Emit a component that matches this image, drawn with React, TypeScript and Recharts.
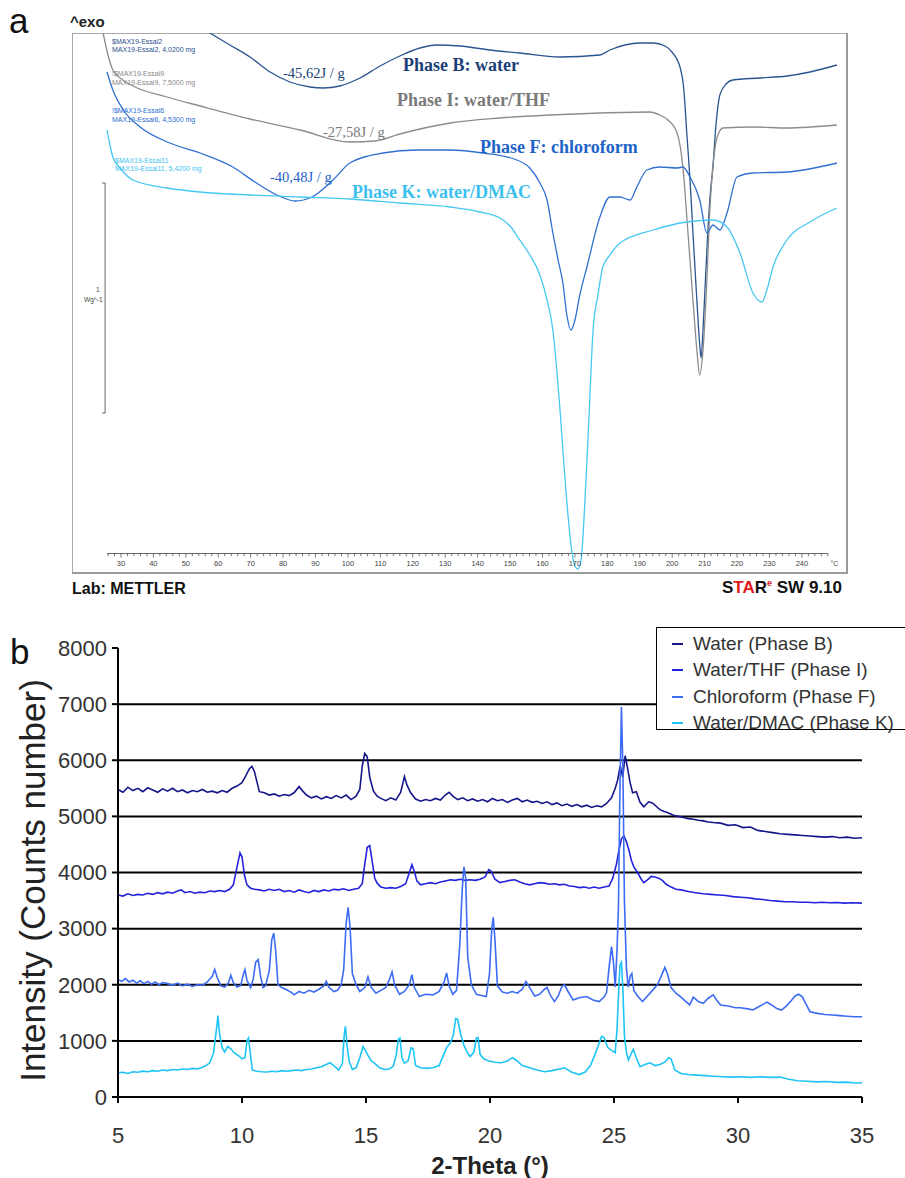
import React from "react";
import { LineChart, Line, XAxis, YAxis, ReferenceLine, Legend } from "recharts";

// ---------- panel a : DSC traces, [temperature °C, heat flow (a.u., 23 = 1 W/g)] ----------
const dscWaterB = [
  [57.4, 53.9], [63.6, 52.7], [69.8, 51.5], [76.0, 50.0], [82.1, 49.0], [88.3, 48.5], [92.3, 48.4],
  [97.5, 48.6], [103.7, 49.4], [109.9, 50.6], [116.0, 51.6], [122.2, 52.4], [127.4, 52.7], [134.5, 52.6],
  [143.8, 52.2], [153.0, 51.9], [165.4, 51.5], [177.7, 51.7], [180.8, 52.2], [185.4, 52.7], [190.0, 52.9],
  [194.1, 52.9], [197.8, 52.6], [199.9, 52.0], [202.4, 50.5], [203.6, 48.2], [204.5, 43.9], [205.5, 39.2],
  [206.4, 33.9], [207.6, 27.2], [208.5, 22.7], [208.9, 21.4], [209.5, 24.2], [210.1, 28.2], [210.7, 32.2],
  [211.6, 37.2], [212.6, 40.7], [213.5, 44.7], [214.7, 47.7], [216.6, 48.8], [218.7, 49.2], [227.1, 49.4],
  [235.4, 49.6], [242.5, 50.0], [250.8, 50.7],
];
const dscWaterThfI = [
  [24.5, 53.9], [26.0, 51.7], [27.5, 50.2], [30.6, 49.2], [33.7, 48.6], [44.2, 47.5], [54.4, 46.6],
  [69.8, 45.3], [85.2, 44.2], [100.6, 43.0], [108.3, 43.1], [116.0, 43.8], [131.5, 44.9], [146.9, 45.4],
  [162.3, 45.7], [177.7, 45.9], [193.1, 46.0], [196.2, 45.7], [198.7, 45.2], [201.5, 43.9], [203.3, 40.5],
  [204.8, 34.2], [206.4, 27.2], [207.6, 22.2], [208.5, 19.7], [209.5, 22.2], [210.7, 29.2], [211.6, 36.2],
  [212.6, 40.7], [213.8, 43.4], [215.6, 44.4], [224.9, 44.5], [235.4, 44.4], [250.8, 44.7],
];
const dscChloroformF = [
  [25.7, 50.0], [27.5, 48.2], [31.2, 46.0], [35.9, 44.5], [45.1, 42.9], [54.4, 41.9], [64.5, 40.5],
  [71.3, 39.0], [78.1, 37.7], [83.7, 37.1], [88.9, 37.5], [95.4, 39.2], [100.6, 40.9], [110.8, 41.9],
  [121.3, 42.2], [131.5, 42.2], [141.6, 41.9], [152.1, 41.2], [156.1, 40.4], [159.2, 38.9], [161.4, 37.2],
  [163.2, 33.9], [164.8, 31.2], [166.3, 28.9], [167.5, 25.7], [168.8, 24.2], [170.0, 25.2], [171.5, 27.7],
  [173.7, 30.5], [177.7, 35.5], [180.8, 37.5], [183.9, 37.5], [187.0, 37.2], [189.1, 38.5], [192.2, 40.2],
  [196.2, 40.5], [201.5, 40.4], [203.3, 40.5], [205.5, 39.5], [208.5, 37.2], [210.7, 33.9], [212.6, 34.7],
  [214.7, 34.2], [216.9, 35.9], [220.0, 39.5], [224.9, 39.9], [235.4, 40.0], [250.8, 40.9],
];
const dscWaterDmacK = [
  [25.7, 44.2], [26.6, 42.7], [27.5, 41.5], [29.7, 40.4], [33.7, 39.2], [44.2, 38.4], [54.4, 38.0],
  [69.8, 37.7], [85.2, 37.5], [100.6, 37.3], [116.0, 36.9], [131.5, 36.5], [140.7, 36.0], [146.9, 35.4],
  [150.0, 34.6], [153.0, 33.2], [156.1, 31.7], [159.2, 29.7], [161.4, 27.2], [163.2, 24.2], [165.4, 16.2],
  [167.2, 8.2], [168.8, 2.7], [170.0, 0.6], [170.9, 0.3], [171.9, 1.2], [173.1, 7.2], [174.3, 15.2],
  [175.6, 24.2], [177.1, 27.7], [178.6, 30.5], [180.8, 31.7], [183.9, 32.9], [194.1, 34.2], [204.5, 35.0],
  [212.6, 35.2], [216.9, 34.5], [220.9, 31.9], [224.9, 27.9], [227.7, 27.0], [229.2, 28.2], [231.1, 30.5],
  [235.4, 33.2], [242.5, 35.0], [250.8, 36.4],
];

const dscDomainT = [14.9, 253.6];
const dscDomainV = [0, 53.9];
const dscMajorTicks = [30, 40, 50, 60, 70, 80, 90, 100, 110, 120, 130, 140, 150, 160, 170, 180, 190, 200, 210, 220, 230, 240];
const dscTicks: number[] = [];
for (let t = 26; t <= 248; t += 2) dscTicks.push(t);
dscTicks.push(250); // unit label slot

// ---------- panel b : XRD patterns, [2-theta °, counts] ----------
const xrdWaterB = [
  [5.0, 5480], [5.2, 5430], [5.4, 5520], [5.6, 5460], [5.8, 5500], [6.0, 5440], [6.2, 5510], [6.4, 5470],
  [6.6, 5430], [6.8, 5490], [7.0, 5450], [7.2, 5500], [7.4, 5440], [7.6, 5470], [7.8, 5420], [8.0, 5460],
  [8.2, 5440], [8.4, 5480], [8.6, 5430], [8.8, 5450], [9.0, 5420], [9.2, 5460], [9.4, 5430], [9.6, 5500],
  [9.8, 5540], [10.0, 5600], [10.15, 5720], [10.3, 5850], [10.4, 5890], [10.5, 5800], [10.6, 5620], [10.7, 5440],
  [10.9, 5420], [11.1, 5380], [11.3, 5400], [11.5, 5360], [11.7, 5390], [11.9, 5370], [12.1, 5420], [12.3, 5530],
  [12.45, 5450], [12.6, 5380], [12.8, 5330], [13.0, 5360], [13.2, 5310], [13.4, 5350], [13.6, 5320], [13.8, 5370],
  [14.0, 5330], [14.2, 5380], [14.4, 5300], [14.6, 5360], [14.75, 5480], [14.85, 5900], [14.95, 6120], [15.05, 6060],
  [15.15, 5700], [15.3, 5450], [15.45, 5360], [15.6, 5320], [15.8, 5280], [16.0, 5330], [16.2, 5290], [16.4, 5430],
  [16.55, 5710], [16.65, 5560], [16.8, 5420], [17.0, 5310], [17.2, 5270], [17.4, 5300], [17.6, 5280], [17.8, 5320],
  [18.0, 5290], [18.2, 5380], [18.35, 5430], [18.5, 5360], [18.7, 5300], [18.9, 5330], [19.1, 5280], [19.3, 5310],
  [19.5, 5270], [19.7, 5300], [19.9, 5260], [20.1, 5320], [20.3, 5280], [20.5, 5300], [20.7, 5250], [20.9, 5290],
  [21.1, 5320], [21.3, 5260], [21.5, 5290], [21.7, 5250], [21.9, 5270], [22.1, 5230], [22.3, 5260], [22.5, 5210],
  [22.7, 5240], [22.9, 5190], [23.1, 5220], [23.3, 5180], [23.5, 5210], [23.7, 5170], [23.9, 5200], [24.1, 5160],
  [24.3, 5190], [24.5, 5170], [24.7, 5230], [24.9, 5330], [25.05, 5500], [25.15, 5650], [25.25, 5900], [25.35, 5700],
  [25.45, 6080], [25.55, 5850], [25.65, 5600], [25.75, 5420], [25.9, 5440], [26.05, 5250], [26.2, 5170], [26.4, 5260],
  [26.55, 5240], [26.7, 5180], [26.85, 5120], [27.0, 5090], [27.2, 5060], [27.4, 5020], [27.6, 5000], [27.8, 4980],
  [28.0, 4960], [28.2, 4950], [28.4, 4930], [28.6, 4920], [28.8, 4900], [29.0, 4890], [29.3, 4880], [29.6, 4840],
  [29.9, 4850], [30.2, 4800], [30.5, 4810], [30.8, 4750], [31.1, 4730], [31.4, 4710], [31.7, 4690], [32.0, 4680],
  [32.3, 4670], [32.6, 4660], [32.9, 4650], [33.2, 4640], [33.5, 4630], [33.8, 4640], [34.1, 4620], [34.4, 4630],
  [34.7, 4610], [35.0, 4620],
];
const xrdWaterThfI = [
  [5.0, 3600], [5.2, 3580], [5.4, 3620], [5.6, 3590], [5.8, 3610], [6.0, 3600], [6.2, 3630], [6.4, 3610],
  [6.6, 3640], [6.8, 3620], [7.0, 3650], [7.2, 3630], [7.4, 3670], [7.55, 3690], [7.7, 3640], [7.9, 3660],
  [8.1, 3630], [8.3, 3650], [8.5, 3640], [8.7, 3670], [8.9, 3660], [9.1, 3680], [9.3, 3660], [9.5, 3700],
  [9.65, 3780], [9.8, 4100], [9.92, 4350], [10.0, 4280], [10.1, 3950], [10.2, 3780], [10.35, 3720], [10.5, 3700],
  [10.7, 3690], [10.9, 3670], [11.1, 3700], [11.3, 3680], [11.5, 3700], [11.7, 3660], [11.9, 3680], [12.1, 3650],
  [12.3, 3690], [12.5, 3660], [12.7, 3640], [12.9, 3680], [13.1, 3660], [13.3, 3690], [13.5, 3670], [13.7, 3700],
  [13.9, 3690], [14.1, 3710], [14.3, 3680], [14.5, 3700], [14.7, 3720], [14.85, 3800], [14.95, 4150], [15.05, 4450],
  [15.15, 4480], [15.25, 4200], [15.35, 3900], [15.45, 3810], [15.6, 3740], [15.8, 3720], [16.0, 3730], [16.2, 3720],
  [16.4, 3750], [16.6, 3800], [16.75, 4000], [16.85, 4140], [16.95, 4020], [17.05, 3850], [17.2, 3780], [17.4, 3800],
  [17.6, 3820], [17.8, 3800], [18.0, 3830], [18.2, 3850], [18.4, 3870], [18.6, 3860], [18.8, 3880], [19.0, 3860],
  [19.2, 3870], [19.4, 3860], [19.6, 3880], [19.8, 3920], [19.95, 4050], [20.05, 4020], [20.2, 3880], [20.4, 3820],
  [20.6, 3840], [20.8, 3860], [21.0, 3870], [21.2, 3830], [21.4, 3800], [21.6, 3780], [21.8, 3800], [22.0, 3820],
  [22.2, 3810], [22.4, 3790], [22.6, 3800], [22.8, 3780], [23.0, 3790], [23.2, 3760], [23.4, 3750], [23.6, 3730],
  [23.8, 3740], [24.0, 3720], [24.2, 3740], [24.4, 3720], [24.6, 3740], [24.8, 3760], [24.95, 3900], [25.1, 4150],
  [25.2, 4400], [25.3, 4600], [25.4, 4650], [25.5, 4550], [25.6, 4400], [25.7, 4220], [25.8, 4100], [25.95, 4000],
  [26.1, 3880], [26.2, 3820], [26.35, 3870], [26.5, 3930], [26.65, 3920], [26.8, 3900], [26.95, 3860], [27.1, 3790],
  [27.3, 3740], [27.5, 3700], [27.7, 3690], [28.0, 3660], [28.3, 3640], [28.6, 3620], [28.9, 3610], [29.2, 3600],
  [29.5, 3590], [29.8, 3570], [30.1, 3560], [30.4, 3550], [30.7, 3530], [31.0, 3520], [31.3, 3500], [31.6, 3490],
  [31.9, 3480], [32.2, 3480], [32.5, 3470], [32.8, 3470], [33.1, 3460], [33.4, 3470], [33.7, 3460], [34.0, 3465],
  [34.3, 3455], [34.6, 3460], [35.0, 3455],
];
const xrdChloroformF = [
  [5.0, 2090], [5.15, 2060], [5.3, 2110], [5.45, 2050], [5.6, 2080], [5.75, 2030], [5.9, 2070], [6.05, 2020],
  [6.2, 2060], [6.35, 2010], [6.5, 2050], [6.65, 2000], [6.8, 2040], [7.0, 2020], [7.2, 1990], [7.4, 2030],
  [7.6, 1980], [7.8, 2010], [8.0, 1970], [8.2, 2000], [8.4, 1990], [8.6, 2050], [8.8, 2150], [8.9, 2270],
  [9.0, 2130], [9.15, 1980], [9.3, 1960], [9.45, 2030], [9.55, 2170], [9.65, 2040], [9.8, 1960], [9.95, 1990],
  [10.05, 2180], [10.12, 2270], [10.2, 2080], [10.35, 1950], [10.45, 2100], [10.55, 2400], [10.65, 2450], [10.75, 2150],
  [10.85, 1950], [10.95, 1980], [11.1, 2250], [11.2, 2800], [11.28, 2920], [11.36, 2600], [11.45, 2000], [11.6, 1950],
  [11.8, 1910], [12.0, 1860], [12.1, 1820], [12.3, 1880], [12.5, 1850], [12.7, 1900], [12.9, 1870], [13.1, 1920],
  [13.3, 1980], [13.4, 2060], [13.5, 1960], [13.7, 1880], [13.85, 1900], [14.0, 2000], [14.1, 2270], [14.2, 3100],
  [14.28, 3380], [14.36, 3000], [14.45, 2200], [14.6, 2000], [14.75, 1880], [14.95, 1950], [15.08, 2140], [15.2, 1960],
  [15.4, 1850], [15.6, 1900], [15.8, 1950], [15.95, 2100], [16.05, 2230], [16.15, 2000], [16.35, 1830], [16.55, 1880],
  [16.75, 2000], [16.85, 2180], [16.95, 1950], [17.15, 1790], [17.4, 1830], [17.7, 1820], [17.95, 1880], [18.15, 2050],
  [18.25, 2210], [18.35, 1980], [18.5, 1830], [18.65, 1900], [18.78, 2700], [18.88, 3700], [18.95, 4100], [19.02, 3900],
  [19.1, 2500], [19.25, 2000], [19.45, 1830], [19.65, 1810], [19.85, 1790], [19.98, 2200], [20.07, 3000], [20.13, 3200],
  [20.2, 2800], [20.3, 1980], [20.5, 1870], [20.7, 1850], [20.9, 1880], [21.1, 1850], [21.3, 1920], [21.45, 2060],
  [21.6, 1950], [21.8, 1800], [22.0, 1830], [22.2, 1920], [22.3, 1950], [22.45, 1800], [22.6, 1700], [22.75, 1800],
  [22.9, 1970], [23.0, 2000], [23.15, 1880], [23.35, 1730], [23.6, 1770], [23.9, 1790], [24.15, 1730], [24.4, 1700],
  [24.6, 1780], [24.7, 1860], [24.8, 2300], [24.9, 2680], [24.98, 2400], [25.05, 1960], [25.12, 2600], [25.18, 3400],
  [25.24, 5500], [25.3, 6950], [25.36, 5800], [25.42, 3500], [25.5, 2300], [25.57, 1960], [25.65, 2150], [25.72, 2200],
  [25.8, 1900], [25.95, 1800], [26.15, 1700], [26.35, 1800], [26.55, 1900], [26.75, 2000], [26.9, 2150], [27.05, 2310],
  [27.15, 2200], [27.3, 1950], [27.5, 1850], [27.7, 1780], [27.9, 1700], [28.05, 1640], [28.2, 1780], [28.4, 1700],
  [28.6, 1670], [28.8, 1760], [29.0, 1820], [29.15, 1720], [29.3, 1640], [29.6, 1620], [29.9, 1590], [30.1, 1590],
  [30.4, 1570], [30.6, 1550], [30.8, 1600], [31.0, 1650], [31.17, 1690], [31.35, 1640], [31.55, 1580], [31.75, 1550],
  [31.95, 1620], [32.15, 1720], [32.3, 1800], [32.45, 1830], [32.6, 1780], [32.75, 1650], [32.9, 1520], [33.2, 1490],
  [33.5, 1470], [33.8, 1460], [34.1, 1450], [34.4, 1440], [34.7, 1430], [35.0, 1430],
];
const xrdWaterDmacK = [
  [5.0, 430], [5.2, 440], [5.4, 420], [5.6, 450], [5.8, 440], [6.0, 460], [6.2, 450], [6.4, 470],
  [6.6, 460], [6.8, 480], [7.0, 470], [7.2, 490], [7.4, 480], [7.6, 500], [7.8, 490], [8.0, 510],
  [8.2, 500], [8.4, 530], [8.55, 560], [8.7, 610], [8.85, 780], [8.97, 1200], [9.03, 1450], [9.1, 1100],
  [9.2, 880], [9.3, 800], [9.42, 900], [9.55, 860], [9.7, 780], [9.85, 740], [10.0, 680], [10.12, 700],
  [10.2, 1000], [10.26, 1050], [10.33, 800], [10.42, 480], [10.6, 460], [10.8, 450], [11.0, 445], [11.2, 460],
  [11.4, 450], [11.6, 470], [11.8, 460], [12.0, 470], [12.2, 480], [12.4, 470], [12.6, 490], [12.8, 500],
  [13.0, 520], [13.2, 540], [13.4, 580], [13.55, 610], [13.7, 560], [13.9, 480], [14.05, 600], [14.12, 1100],
  [14.17, 1260], [14.24, 900], [14.32, 640], [14.45, 490], [14.6, 520], [14.75, 700], [14.88, 900], [14.98, 820],
  [15.08, 740], [15.2, 650], [15.35, 600], [15.55, 520], [15.75, 490], [15.95, 500], [16.1, 550], [16.22, 750],
  [16.3, 1020], [16.37, 1050], [16.45, 700], [16.55, 600], [16.7, 650], [16.82, 880], [16.9, 860], [17.0, 560],
  [17.2, 520], [17.45, 510], [17.7, 520], [17.95, 560], [18.1, 720], [18.25, 880], [18.4, 960], [18.52, 1100],
  [18.62, 1400], [18.7, 1380], [18.8, 1150], [18.95, 920], [19.1, 780], [19.2, 720], [19.35, 800], [19.45, 1050],
  [19.52, 1060], [19.6, 760], [19.75, 680], [19.95, 640], [20.2, 620], [20.45, 610], [20.7, 640], [20.9, 700],
  [21.05, 660], [21.3, 560], [21.6, 520], [21.9, 480], [22.2, 450], [22.5, 470], [22.8, 500], [23.0, 520],
  [23.3, 440], [23.6, 400], [23.85, 450], [24.05, 560], [24.2, 720], [24.35, 900], [24.5, 1080], [24.6, 1060],
  [24.75, 880], [24.9, 830], [25.05, 790], [25.12, 1200], [25.18, 1800], [25.24, 2350], [25.3, 2400], [25.36, 1900],
  [25.42, 1100], [25.5, 800], [25.58, 660], [25.68, 760], [25.78, 850], [25.9, 700], [26.05, 540], [26.25, 580],
  [26.45, 610], [26.65, 560], [26.85, 580], [27.05, 620], [27.2, 700], [27.3, 680], [27.45, 480], [27.7, 420],
  [28.0, 400], [28.35, 390], [28.7, 380], [29.0, 370], [29.4, 360], [29.7, 355], [30.1, 360], [30.5, 350],
  [30.9, 360], [31.3, 350], [31.7, 355], [32.0, 320], [32.4, 290], [32.8, 280], [33.2, 270], [33.6, 275],
  [34.0, 260], [34.4, 265], [34.7, 250], [35.0, 255],
];

const xrdXTicks = [5, 10, 15, 20, 25, 30, 35];
const xrdYTicks = [0, 1000, 2000, 3000, 4000, 5000, 6000, 7000, 8000];
const xrdGrid = [1000, 2000, 3000, 4000, 5000, 6000, 7000];

const SANS = "'Liberation Sans', Arial, sans-serif";
const SERIF = "'Liberation Serif', 'Times New Roman', serif";

const toPts = (rows: number[][]) => rows.map(([x, y]) => ({ x, y }));

const dscSeries = [
  { name: "Phase B", data: toPts(dscWaterB), color: "#2a5590" },
  { name: "Phase I", data: toPts(dscWaterThfI), color: "#8c8c8c" },
  { name: "Phase F", data: toPts(dscChloroformF), color: "#2f70d0" },
  { name: "Phase K", data: toPts(dscWaterDmacK), color: "#46c8f2" },
];

const xrdSeries = [
  { name: "Water (Phase B)", data: toPts(xrdWaterB), color: "#15158a" },
  { name: "Water/THF (Phase I)", data: toPts(xrdWaterThfI), color: "#2323dc" },
  { name: "Chloroform (Phase F)", data: toPts(xrdChloroformF), color: "#3d6cf4" },
  { name: "Water/DMAC (Phase K)", data: toPts(xrdWaterDmacK), color: "#1ec4f4" },
];
const legendOrder = xrdSeries.map((s) => s.name);

// temperature axis of the DSC panel: hanging ticks above the frame bottom
function DscTick(props: any) {
  const { x, y, payload } = props;
  const t = payload.value;
  if (t === 250) {
    return (
      <text x={x} y={y - 6} fontSize={7} fontFamily={SANS} fill="#444" textAnchor="middle">°C</text>
    );
  }
  const major = dscMajorTicks.includes(t);
  return (
    <g>
      <line x1={x} x2={x} y1={y - 18.5} y2={y - (major ? 14.5 : 15.8)} stroke="#555" strokeWidth={0.8} />
      {major && (
        <text x={x} y={y - 6} fontSize={7.5} fontFamily={SANS} fill="#444" textAnchor="middle">{t}</text>
      )}
    </g>
  );
}

function XrdYTitle(props: any) {
  const vb = props.viewBox || { x: 0, y: 48, width: 118, height: 449 };
  const cx = 32;
  const cy = vb.y + vb.height / 2 + 8;
  return (
    <text x={cx} y={cy} transform={`rotate(-90 ${cx} ${cy})`} textAnchor="middle" dominantBaseline="central"
      fontSize={35} fontFamily={SANS} fill="#222">
      Intensity (Counts number)
    </text>
  );
}

function XrdXTitle(props: any) {
  const vb = props.viewBox || { x: 118, y: 497, width: 744, height: 81 };
  return (
    <text x={vb.x + vb.width / 2} y={vb.y + 68} textAnchor="middle" dominantBaseline="central"
      fontSize={24} fontWeight="bold" fontFamily={SANS} fill="#222">
      2-Theta (°)
    </text>
  );
}

function XrdLegend(props: any) {
  const items = [...(props.payload || [])].sort(
    (a: any, b: any) => legendOrder.indexOf(a.value) - legendOrder.indexOf(b.value)
  );
  return (
    <div style={{ width: 252, height: 103, boxSizing: "border-box", border: "1.5px solid #000", background: "#fff", paddingTop: 3 }}>
      {items.map((p: any) => (
        <div key={p.value} style={{ height: 26.3, display: "flex", alignItems: "center" }}>
          <span style={{ display: "inline-block", width: 11, height: 2, background: p.color, marginLeft: 15, marginRight: 10 }} />
          <span style={{ fontSize: 19, fontFamily: SANS, color: "#333", whiteSpace: "nowrap" }}>{p.value}</span>
        </div>
      ))}
    </div>
  );
}

export default function App() {
  return (
    <div style={{ position: "absolute", left: 0, top: 0, width: 905, height: 1178, overflow: "hidden", background: "#fff" }}>
      {/* DSC frame */}
      <div style={{ position: "absolute", left: 72, top: 33, width: 773, height: 538, borderTop: "1px solid #a8a8a8", borderLeft: "1px solid #a8a8a8", borderRight: "2px solid #9a9a9a", borderBottom: "2px solid #9a9a9a" }} />

      <div style={{ position: "absolute", left: 0, top: 0 }}>
        <LineChart width={905} height={600} margin={{ top: 33, right: 59, left: 72, bottom: 0 }}>
          <XAxis type="number" dataKey="x" domain={dscDomainT} allowDataOverflow ticks={dscTicks} interval={0}
            height={28} axisLine={false} tickLine={false} tickSize={0} tickMargin={0} tick={<DscTick />} />
          <YAxis type="number" dataKey="y" domain={dscDomainV} allowDataOverflow hide />
          <ReferenceLine segment={[{ x: 25.7, y: 1.85 }, { x: 248, y: 1.85 }]} stroke="#555" strokeWidth={0.9} />
          <ReferenceLine segment={[{ x: 25.1, y: 15.9 }, { x: 25.1, y: 38.9 }]} stroke="#666" strokeWidth={1} />
          <ReferenceLine segment={[{ x: 24.2, y: 15.9 }, { x: 25.1, y: 15.9 }]} stroke="#666" strokeWidth={1} />
          <ReferenceLine segment={[{ x: 24.2, y: 38.9 }, { x: 25.1, y: 38.9 }]} stroke="#666" strokeWidth={1} />
          {dscSeries.map((s) => (
            <Line key={s.name} data={s.data} dataKey="y" name={s.name} type="monotone" stroke={s.color}
              strokeWidth={1.3} dot={false} isAnimationActive={false} />
          ))}
        </LineChart>
      </div>

      <div style={{ position: "absolute", left: 0, top: 600 }}>
        <LineChart width={905} height={578} margin={{ top: 48, right: 43, left: 0, bottom: 0 }}>
          <XAxis type="number" dataKey="x" domain={[5, 35]} ticks={xrdXTicks} interval={0} height={81}
            axisLine={{ stroke: "#000", strokeWidth: 2 }} tickLine={{ stroke: "#000", strokeWidth: 2 }}
            tickSize={6} tickMargin={24} tick={{ fontSize: 22, fontFamily: SANS, fill: "#333" }} label={XrdXTitle} />
          <YAxis type="number" dataKey="y" domain={[0, 8000]} ticks={xrdYTicks} interval={0} width={118}
            axisLine={{ stroke: "#000", strokeWidth: 2 }} tickLine={{ stroke: "#000", strokeWidth: 2 }}
            tickSize={6} tickMargin={5} tick={{ fontSize: 22, fontFamily: SANS, fill: "#333" }} label={XrdYTitle} />
          {xrdGrid.map((v) => (
            <ReferenceLine key={v} y={v} stroke="#000" strokeWidth={2} />
          ))}
          {xrdSeries.map((s) => (
            <Line key={s.name} data={s.data} dataKey="y" name={s.name} type="linear" stroke={s.color}
              strokeWidth={1.6} dot={false} isAnimationActive={false} />
          ))}
          <Legend layout="vertical" align="center" verticalAlign="middle" content={<XrdLegend />}
            wrapperStyle={{ left: 656, top: 27, width: 252, height: 103 }} />
        </LineChart>
      </div>

      {/* annotation layer */}
      <svg width={905} height={1178} style={{ position: "absolute", left: 0, top: 0, pointerEvents: "none" }}>
        <text x={9} y={33} fontSize={35} fontFamily={SANS} fill="#111">a</text>
        <text x={70} y={27} fontSize={15} fontWeight="bold" fontFamily={SANS} fill="#222">^exo</text>

        <g fontSize={7} fontFamily={SANS}>
          <text x={112} y={43.5} fill="#2b4f8f">$MAX19-Essai2</text>
          <text x={112} y={51.5} fill="#2b4f8f">MAX19-Essai2, 4,0200 mg</text>
          <text x={112} y={75.5} fill="#888">!$MAX19-Essai9</text>
          <text x={112} y={84.5} fill="#888">MAX19-Essai9, 7,5000 mg</text>
          <text x={112} y={112.5} fill="#2a6ed0">!$MAX19-Essai6</text>
          <text x={112} y={121.5} fill="#2a6ed0">MAX19-Essai6, 4,5300 mg</text>
          <text x={115} y={162.5} fill="#3fc4f0">$MAX19-Essai11</text>
          <text x={115} y={170.5} fill="#3fc4f0">MAX19-Essai11, 5,4200 mg</text>
        </g>

        <g fontFamily={SERIF}>
          <text x={283} y={78} fontSize={14.5} fill="#1d3f78">-45,62J / g</text>
          <text x={403} y={71} fontSize={18} fontWeight="bold" fill="#1d3f78">Phase B: water</text>
          <text x={397} y={106} fontSize={18} fontWeight="bold" fill="#7a7a7a">Phase I: water/THF</text>
          <text x={323} y={137} fontSize={14.5} fill="#7a7a7a">-27,58J / g</text>
          <text x={480} y={153} fontSize={18} fontWeight="bold" fill="#1e63c8">Phase F: chloroform</text>
          <text x={270} y={182} fontSize={14.5} fill="#1e63c8">-40,48J / g</text>
          <text x={352} y={198} fontSize={18} fontWeight="bold" fill="#3cc0ee">Phase K: water/DMAC</text>
        </g>

        <text x={96} y={292} fontSize={6.5} fontFamily={SANS} fill="#444">1</text>
        <text x={84} y={302} fontSize={6.5} fontFamily={SANS} fill="#444">Wg^-1</text>

        <text x={72} y={594} fontSize={16} fontWeight="bold" fontFamily={SANS} fill="#111">Lab: METTLER</text>
        <text x={722} y={593} fontSize={17} fontWeight="bold" fontFamily={SANS} fill="#111">
          S<tspan fill="#e01818">TA</tspan>R<tspan fill="#e01818" fontSize={9} dy={-7}>e</tspan>
          <tspan dy={7}> SW 9.10</tspan>
        </text>

        <text x={10} y={664} fontSize={35} fontFamily={SANS} fill="#111">b</text>
      </svg>
    </div>
  );
}
